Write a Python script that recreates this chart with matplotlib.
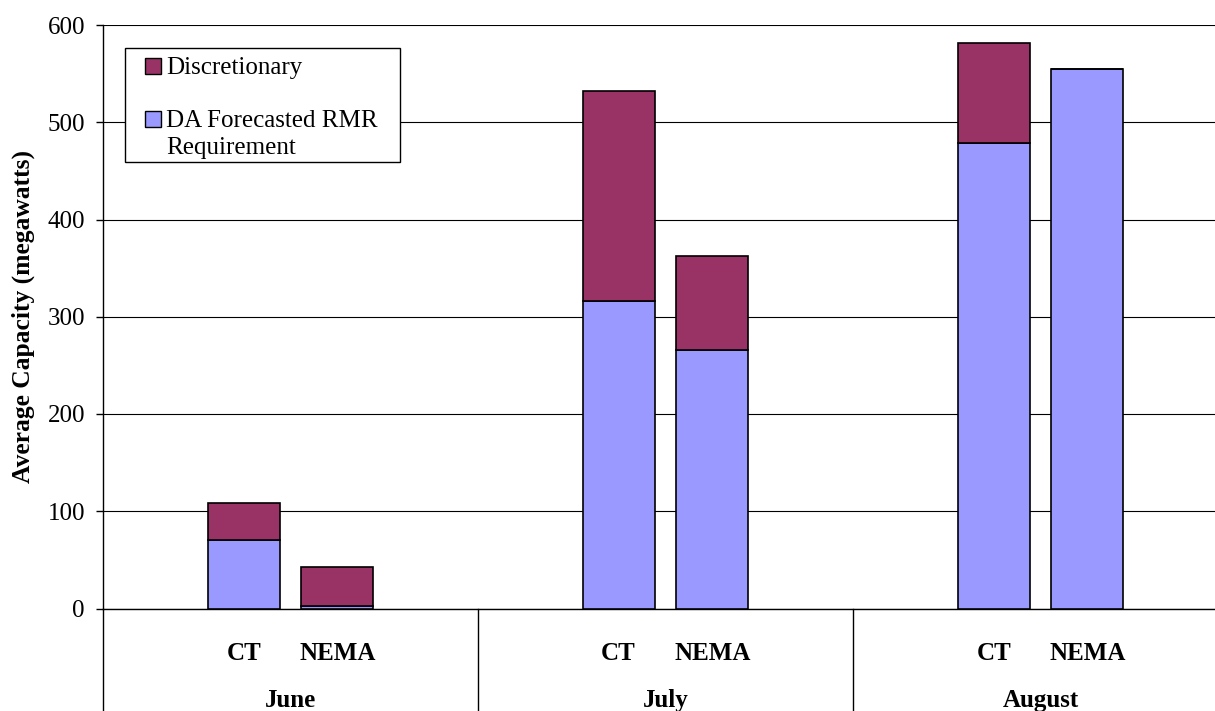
#!/usr/bin/env python3
import matplotlib
matplotlib.use("Agg")
import matplotlib.pyplot as plt
from matplotlib.patches import Rectangle
import numpy as np

months = ["June", "July", "August"]
zones = ["CT", "NEMA"]
# average capacity in MW, one value per (month, zone)
rmr_req = [70, 3, 316, 266, 479, 555]
discretionary = [38.5, 40, 216, 96, 103, 0]

C_DISC = "#993366"
C_RMR = "#9999FF"
FONT = "Liberation Serif"

W, H, dpi = 1215, 711, 100
plt.rcParams["font.family"] = [FONT, "DejaVu Serif"]
fig = plt.figure(figsize=(W / dpi, H / dpi), dpi=dpi)
ax = fig.add_axes([103 / W, (H - 608.5) / H, 1125 / W, 583.5 / H])

offset = 0.125
width = 0.192
centers = np.arange(len(months)) + 0.5
xpos = np.ravel([[c - offset, c + offset] for c in centers])

ax.set_ylim(0, 600)
ax.set_xlim(0, len(months))
ax.set_yticks(np.arange(0, 601, 100))
ax.grid(True, axis="y", color="black", linewidth=0.8)
ax.set_axisbelow(True)

ax.bar(xpos, rmr_req, width=width, color=C_RMR, edgecolor="black", linewidth=1.2, zorder=3)
ax.bar(xpos, discretionary, width=width, bottom=rmr_req, color=C_DISC,
       edgecolor="black", linewidth=1.2, zorder=3)

for s in ["top", "right"]:
    ax.spines[s].set_visible(False)
ax.spines["left"].set_linewidth(1.0)
ax.spines["bottom"].set_linewidth(1.0)

ax.tick_params(axis="y", length=5, width=1.0, pad=8, labelsize=18)
ax.set_xticks(xpos, zones * len(months), fontweight="bold", fontsize=18)
ax.tick_params(axis="x", length=0, pad=24)

# month separators and labels below the category axis
depth = (H - 608.5) / 583.5
for b in range(len(months) + 1):
    ax.plot([b, b], [0, -depth], color="black", linewidth=1.0, clip_on=False,
            transform=ax.get_xaxis_transform())
for c, m in zip(centers, months):
    ax.text(c, -(707 - 608.5) / 583.5, m, ha="center", va="baseline",
            fontsize=18, fontweight="bold", transform=ax.get_xaxis_transform())

ax.set_ylabel("Average Capacity (megawatts)", fontsize=18.4, fontweight="bold")
ax.yaxis.set_label_coords((35 - 103) / 1125, 0.5)


# legend box
def fx(x):
    return x / W


def fy(y):
    return 1 - y / H


fig.patches.append(Rectangle((fx(125), fy(162)), fx(400) - fx(125), fy(48) - fy(162),
                             transform=fig.transFigure, facecolor="white",
                             edgecolor="black", linewidth=1.0, zorder=5))
entries = [(C_DISC, "Discretionary", 74), (C_RMR, "DA Forecasted RMR\nRequirement", 127)]
for color, label, base in entries:
    fig.patches.append(Rectangle((fx(145), fy(base)), fx(161) - fx(145), fy(base - 16) - fy(base),
                                 transform=fig.transFigure, facecolor=color,
                                 edgecolor="black", linewidth=1.0, zorder=6))
    fig.text(fx(166), fy(base), label.split("\n")[0], fontsize=18, va="baseline", zorder=7)
    if "\n" in label:
        fig.text(fx(166), fy(base + 27), label.split("\n")[1], fontsize=18, va="baseline", zorder=7)

fig.savefig("out.png", dpi=dpi)
